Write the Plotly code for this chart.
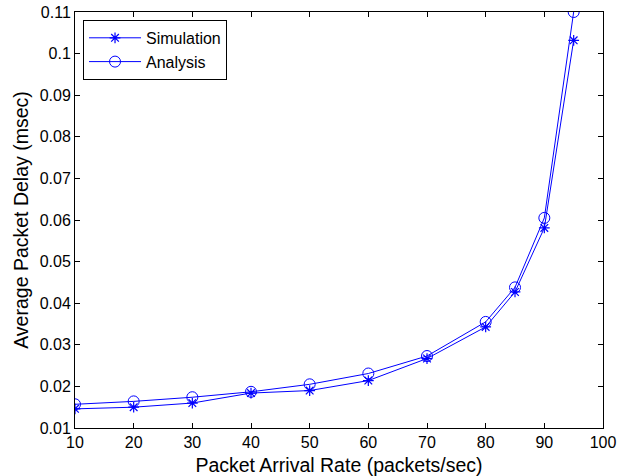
import plotly.graph_objects as go

rates = [10, 20, 30, 40, 50, 60, 70, 80, 85, 90, 95]
simulation = [0.0146, 0.0150, 0.0160, 0.0184, 0.0190, 0.0214, 0.0267, 0.0343, 0.0427, 0.0581, 0.1032]
analysis = [0.0157, 0.0164, 0.0174, 0.0187, 0.0205, 0.0231, 0.0273, 0.0355, 0.0438, 0.0605, 0.1100]

blue = "#0000ff"
font_family = "Liberation Sans, Arial, Helvetica"
fig = go.Figure()
fig.add_trace(go.Scatter(x=rates, y=simulation, name="Simulation", mode="lines+markers",
                         line=dict(color=blue, width=1),
                         marker=dict(symbol="asterisk-open", size=9, color=blue, line=dict(color=blue, width=1.2))))
fig.add_trace(go.Scatter(x=rates, y=analysis, name="Analysis", mode="lines+markers",
                         line=dict(color=blue, width=1),
                         marker=dict(symbol="circle-open", size=11, color=blue, line=dict(color=blue, width=1))))

axis_common = dict(showgrid=False, zeroline=False, showline=True, linecolor="black", linewidth=1,
                   mirror="ticks", ticks="inside", ticklen=5, tickcolor="black",
                   tickfont=dict(family=font_family, size=16, color="black"))
fig.update_layout(
    width=626, height=476,
    margin=dict(l=75, r=23, t=12, b=48),
    paper_bgcolor="white", plot_bgcolor="white",
    font=dict(family=font_family, color="black"),
    xaxis=dict(range=[10, 100], tick0=10, dtick=10, automargin=False,
               title=dict(text="Packet Arrival Rate (packets/sec)", font=dict(size=19.5)),
               **axis_common),
    yaxis=dict(range=[0.01, 0.11], tick0=0.01, dtick=0.01, automargin="left",
               title=dict(text="Average Packet Delay (msec)", font=dict(size=19.5), standoff=5),
               **axis_common),
    legend=dict(x=0.0152, y=0.981, xanchor="left", yanchor="top", bgcolor="white",
                bordercolor="black", borderwidth=1, font=dict(size=16, family=font_family),
                tracegroupgap=0, itemwidth=52),
    showlegend=True,
)
fig.write_html("out.html", config={"displayModeBar": False},
               post_script="document.body.style.margin='0';")
